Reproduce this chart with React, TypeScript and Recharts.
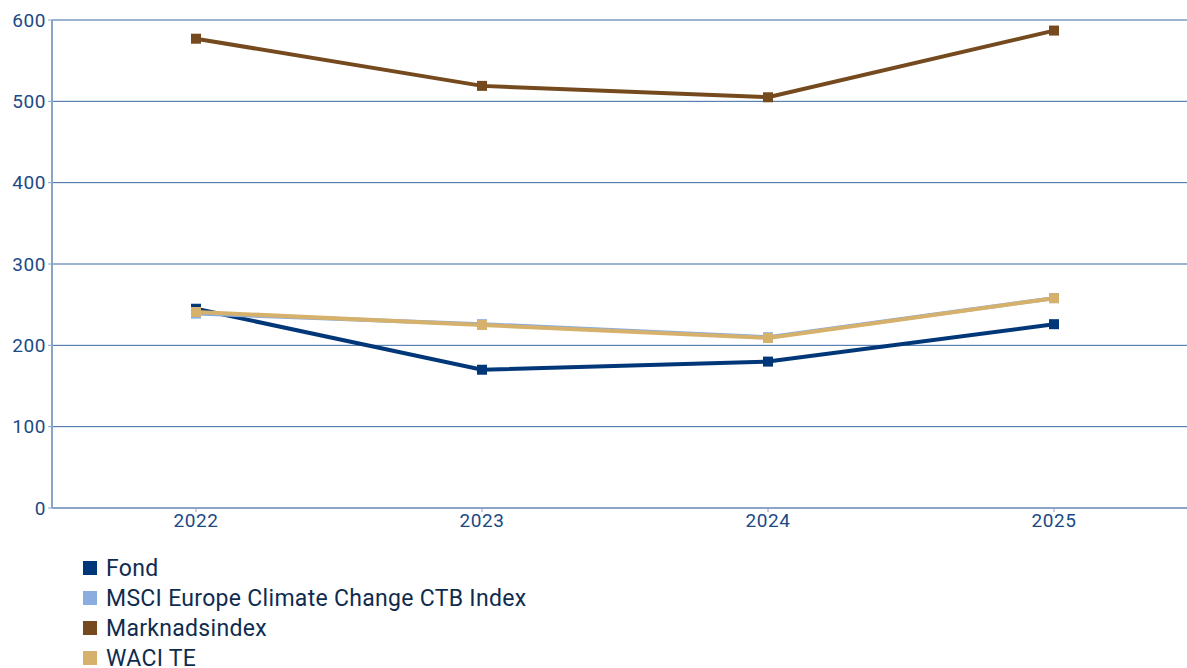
import { CartesianGrid, Line, LineChart, XAxis, YAxis } from 'recharts';

const years = ['2022', '2023', '2024', '2025'];
const fond = [245, 170, 180, 226];
const msci = [239, 226, 210, 258];
const marknadsindex = [577, 519, 505, 587];
const waciTe = [241, 225, 209, 258];
const yTicks = [0, 100, 200, 300, 400, 500, 600];

const series = [
  { key: 'fond', name: 'Fond', color: '#003778' },
  { key: 'msci', name: 'MSCI Europe Climate Change CTB Index', color: '#8aacdf' },
  { key: 'marknadsindex', name: 'Marknadsindex', color: '#744a1e' },
  { key: 'waciTe', name: 'WACI TE', color: '#d5b16c' },
];

const data = years.map((year, i) => ({
  year,
  fond: fond[i],
  msci: msci[i],
  marknadsindex: marknadsindex[i],
  waciTe: waciTe[i],
}));

const Square = (props: any) => {
  const { cx, cy, stroke } = props;
  if (cx == null || cy == null) return null;
  return <rect x={cx - 5} y={cy - 5} width={10} height={10} fill={stroke} />;
};

const tickStyle = { fill: '#1b4a85', fontSize: 19, fontFamily: 'Roboto', letterSpacing: 0.6 };

export default function App() {
  return (
    <div style={{ position: 'absolute', left: 0, top: 0, width: 1187, height: 668, overflow: 'hidden', background: '#fff' }}>
      <LineChart width={1200} height={668} data={data} margin={{ top: 20, right: 4, left: 0, bottom: 120 }}>
        <CartesianGrid vertical={false} stroke="#3a68a3" strokeWidth={1} />
        <XAxis
          dataKey="year"
          tick={tickStyle}
          axisLine={{ stroke: '#8aa4c8', strokeWidth: 2 }}
          tickLine={{ stroke: '#8aa4c8' }}
          tickSize={4}
          padding={{ left: 144, right: 142 }}
          height={40}
        />
        <YAxis
          domain={[0, 600]}
          ticks={yTicks}
          tick={tickStyle}
          axisLine={{ stroke: '#8aa4c8', strokeWidth: 2 }}
          tickLine={{ stroke: '#8aa4c8' }}
          tickSize={4}
          width={52}
        />
        {series.map((s) => (
          <Line
            key={s.key}
            dataKey={s.key}
            name={s.name}
            stroke={s.color}
            strokeWidth={4}
            dot={<Square />}
            activeDot={false}
            isAnimationActive={false}
          />
        ))}
      </LineChart>
      <div style={{ position: 'absolute', left: 83, top: 553, fontFamily: 'Roboto', fontSize: 23, letterSpacing: 0.3, color: '#0f2c4f' }}>
        {series.map((s) => (
          <div key={s.key} style={{ display: 'flex', alignItems: 'center', height: 30 }}>
            <span style={{ width: 14, height: 14, background: s.color, marginRight: 9, display: 'inline-block' }} />
            <span>{s.name}</span>
          </div>
        ))}
      </div>
    </div>
  );
}
